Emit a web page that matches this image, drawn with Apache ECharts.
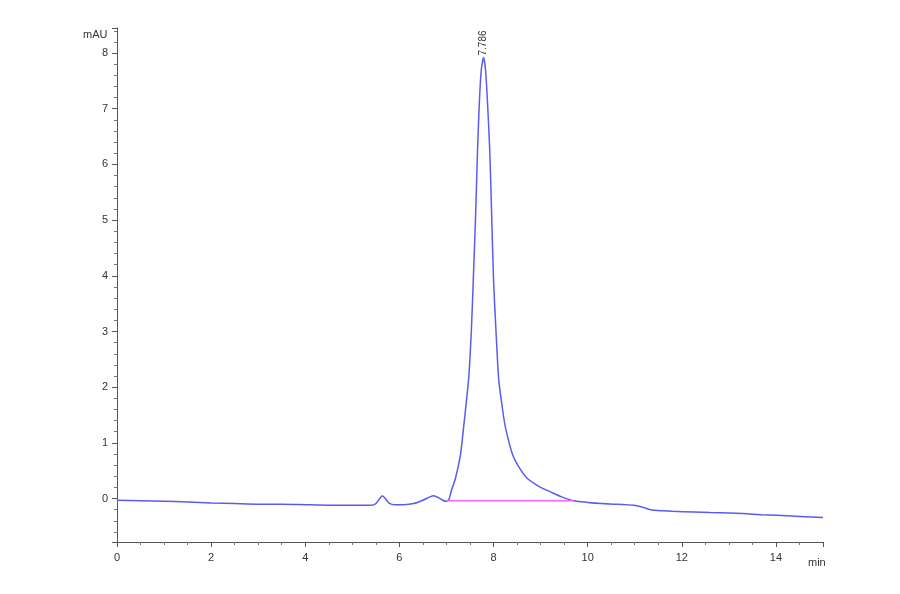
<!DOCTYPE html>
<html>
<head>
<meta charset="utf-8">
<script src="https://cdn.jsdelivr.net/npm/echarts@6/dist/echarts.min.js"></script>
<style>
  html,body{margin:0;padding:0;background:#fff;}
  #chart{width:900px;height:594px;}
</style>
</head>
<body>
<div id="chart"></div>
<script>
// retention time (min)
var times = [0, 0.5, 1, 1.5, 2, 2.5, 3, 3.5, 4, 4.5, 5, 5.4, 5.5, 5.58, 5.64, 5.7, 5.78, 5.9,
  6.1, 6.3, 6.5, 6.65, 6.73, 6.82, 6.92, 7.0, 7.05, 7.1, 7.19, 7.3, 7.36, 7.47, 7.53, 7.57,
  7.62, 7.66, 7.70, 7.74, 7.786, 7.83, 7.87, 7.92, 7.96, 8.0, 8.05, 8.11, 8.2, 8.26, 8.4,
  8.55, 8.72, 9.0, 9.21, 9.45, 9.7, 10.0, 10.3, 10.6, 10.98, 11.15, 11.34, 11.6, 11.8,
  12.26, 12.6, 13.0, 13.3, 13.7, 14.0, 14.5, 15.0];
// absorbance (mAU)
var signal = [-0.03, -0.04, -0.05, -0.06, -0.08, -0.09, -0.1, -0.1, -0.11, -0.12, -0.12, -0.12, -0.09, 0.0, 0.05, 0.0, -0.08, -0.11,
  -0.11, -0.09, -0.03, 0.03, 0.05, 0.02, -0.03, -0.05, -0.02, 0.13, 0.36, 0.8, 1.25, 2.14, 3.04, 3.93,
  5.1, 6.25, 7.14, 7.7, 7.92, 7.7, 7.14, 6.25, 5.1, 3.93, 3.04, 2.14, 1.55, 1.25, 0.8,
  0.55, 0.36, 0.2, 0.12, 0.03, -0.04, -0.07, -0.09, -0.1, -0.12, -0.15, -0.2, -0.22, -0.23,
  -0.24, -0.25, -0.26, -0.27, -0.29, -0.3, -0.32, -0.34];
// integration baseline under the main peak
var baseTimes = [7.02, 9.7];
var baseValues = [-0.04, -0.04];
var peakTime = 7.786;
var peakHeight = 7.92;
var peakLabel = "7.786";

var trace = [];
for (var i = 0; i < times.length; i++) {
  trace.push([times[i], signal[i]]);
}
var baseline = [];
for (var j = 0; j < baseTimes.length; j++) {
  baseline.push([baseTimes[j], baseValues[j]]);
}

var axisFont = {fontFamily: "Liberation Sans", fontSize: 11, color: "#333"};
var myChart = echarts.init(document.getElementById("chart"));
myChart.setOption({
  animation: false,
  backgroundColor: "#fff",
  grid: {left: 117, right: 77, top: 28, bottom: 52},
  xAxis: {
    type: "value",
    min: 0,
    max: 15,
    interval: 2,
    splitLine: {show: false},
    axisLine: {onZero: false, lineStyle: {color: "#555", width: 1}},
    axisTick: {length: 5, lineStyle: {color: "#555"}},
    minorTick: {show: true, splitNumber: 4, length: 3, lineStyle: {color: "#777"}},
    axisLabel: Object.assign({margin: 10, showMaxLabel: false}, axisFont)
  },
  yAxis: {
    type: "value",
    min: -0.78,
    max: 8.45,
    splitNumber: 9,
    splitLine: {show: false},
    axisLine: {show: true, onZero: false, lineStyle: {color: "#555", width: 1}},
    axisTick: {show: true, length: 5, lineStyle: {color: "#555"}},
    minorTick: {show: true, splitNumber: 5, length: 3, lineStyle: {color: "#777"}},
    axisLabel: Object.assign({
      margin: 9,
      showMinLabel: false,
      showMaxLabel: false,
      formatter: function (v) { return Math.abs(v - Math.round(v)) < 1e-6 ? String(Math.round(v)) : ""; }
    }, axisFont)
  },
  graphic: [
    {type: "text", left: 83, top: 29, style: {text: "mAU", font: "11px 'Liberation Sans'", fill: "#333"}},
    {type: "text", left: 808, top: 557, style: {text: "min", font: "11px 'Liberation Sans'", fill: "#333"}}
  ],
  series: [
    {
      type: "line",
      data: trace,
      showSymbol: false,
      smooth: 0.2,
      lineStyle: {color: "#5b5bf0", width: 1.5},
      markPoint: {
        symbol: "circle",
        symbolSize: 0,
        data: [{coord: [peakTime, peakHeight], value: peakLabel}],
        label: {
          show: true,
          position: "top",
          distance: 2,
          rotate: 90,
          align: "left",
          verticalAlign: "middle",
          formatter: peakLabel,
          fontFamily: "Liberation Sans",
          fontSize: 10,
          color: "#333"
        }
      }
    },
    {
      type: "line",
      data: baseline,
      showSymbol: false,
      lineStyle: {color: "#ff66ff", width: 1.5}
    }
  ]
});
</script>
</body>
</html>
